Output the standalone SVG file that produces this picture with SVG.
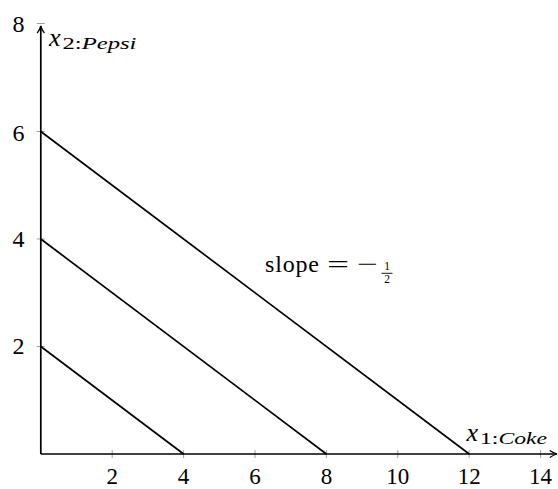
<svg xmlns="http://www.w3.org/2000/svg" width="558" height="489" viewBox="0 0 558 489">
<style>
text{fill:#000}
.tick{stroke:#888;stroke-width:0.8}
.ln{stroke:#000;stroke-width:1.7;fill:none}
</style>
<defs>
<marker id="ah" viewBox="0 0 10 10" refX="9" refY="5" markerWidth="9" markerHeight="9" markerUnits="userSpaceOnUse" orient="auto">
<path d="M1,1 Q5,4 9,5 Q5,6 1,9" fill="none" stroke="#000" stroke-width="1.4"/>
</marker>
</defs>
<rect width="558" height="489" fill="#fff"/>
<g id="ticks">
<line class="tick" x1="112.2" y1="450" x2="112.2" y2="458"/>
<line class="tick" x1="183.6" y1="450" x2="183.6" y2="458"/>
<line class="tick" x1="255" y1="450" x2="255" y2="458"/>
<line class="tick" x1="326.4" y1="450" x2="326.4" y2="458"/>
<line class="tick" x1="397.8" y1="450" x2="397.8" y2="458"/>
<line class="tick" x1="469.2" y1="450" x2="469.2" y2="458"/>
<line class="tick" x1="540.6" y1="450" x2="540.6" y2="458"/>
<line class="tick" x1="36.7" y1="346.5" x2="44.7" y2="346.5"/>
<line class="tick" x1="36.7" y1="239" x2="44.7" y2="239"/>
<line class="tick" x1="36.7" y1="131.5" x2="44.7" y2="131.5"/>
<line class="tick" x1="36.7" y1="23.5" x2="44.7" y2="23.5"/>
</g>
<g id="connectors">
<line class="ln" x1="40.8" y1="454" x2="557" y2="454" marker-end="url(#ah)"/>
<line class="ln" x1="40.8" y1="454" x2="40.8" y2="26" marker-end="url(#ah)"/>
<line class="ln" x1="40.8" y1="346.5" x2="183.6" y2="454"/>
<line class="ln" x1="40.8" y1="239" x2="326.4" y2="454"/>
<line class="ln" x1="40.8" y1="131.5" x2="469.2" y2="454"/>
</g>
<g id="xlabels" font-family="'Liberation Serif', 'Times New Roman', serif" font-size="23" text-anchor="middle">
<text x="112.2" y="484">2</text>
<text x="183.6" y="484">4</text>
<text x="255" y="484">6</text>
<text x="326.4" y="484">8</text>
<text x="397.8" y="484">10</text>
<text x="469.2" y="484">12</text>
<text x="540.6" y="484">14</text>
</g>
<g id="ylabels" font-family="'Liberation Serif', 'Times New Roman', serif" font-size="24" text-anchor="end">
<text x="24.5" y="354">2</text>
<text x="24.5" y="247">4</text>
<text x="24.5" y="140.5">6</text>
<text x="24.5" y="31.5">8</text>
</g>
<g id="x2label" font-family="'Liberation Serif', 'Times New Roman', serif" font-style="italic">
<text x="49" y="45.7" font-size="26">x</text>
<text x="62.5" y="48.5" font-size="17" textLength="74" lengthAdjust="spacingAndGlyphs"><tspan font-style="normal">2:</tspan>Pepsi</text>
</g>
<g id="x1label" font-family="'Liberation Serif', 'Times New Roman', serif" font-style="italic">
<text x="466.5" y="440.7" font-size="26">x</text>
<text x="480" y="444.3" font-size="17" textLength="67" lengthAdjust="spacingAndGlyphs"><tspan font-style="normal">1:</tspan>Coke</text>
</g>
<g id="slope" font-family="'Liberation Serif', 'Times New Roman', serif">
<text x="265" y="272" font-size="24" textLength="54">slope</text>
<text x="327" y="272" font-size="24" textLength="22" lengthAdjust="spacingAndGlyphs">=</text>
<text x="357" y="272" font-size="24" textLength="21" lengthAdjust="spacingAndGlyphs">−</text>
<text x="387" y="269.5" font-size="11.5" text-anchor="middle">1</text>
<line x1="381.5" y1="273.3" x2="392.5" y2="273.3" stroke="#000" stroke-width="0.9"/>
<text x="387" y="282.7" font-size="11.5" text-anchor="middle">2</text>
</g>
</svg>
